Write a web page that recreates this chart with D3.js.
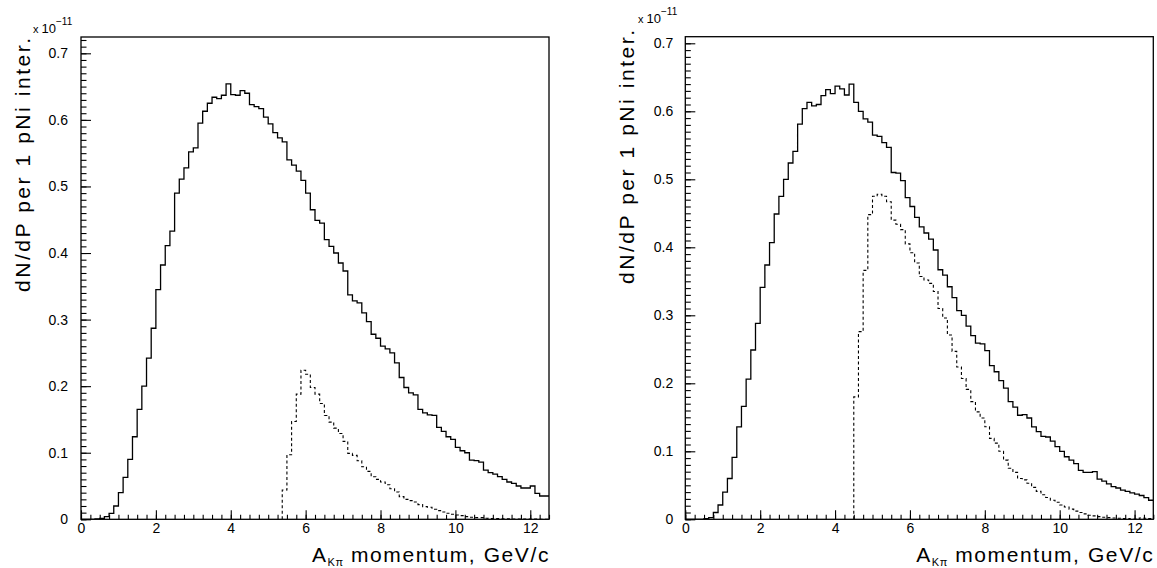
<!DOCTYPE html>
<html>
<head>
<meta charset="utf-8">
<script src="https://cdn.jsdelivr.net/npm/d3@7"></script>
<style>
  body { margin: 0; background: #fff; }
  text { font-family: "Liberation Sans", Arial, sans-serif; fill: #000; }
</style>
</head>
<body>
<svg id="chart"></svg>
<script>

  // ---------------------------//
  //            DATA            //
  // ---------------------------//

    var binWidth = 0.125;
    var xMax = 12.5;
    var xTicks = [0, 2, 4, 6, 8, 10, 12];
    var yTicks = [0, 0.1, 0.2, 0.3, 0.4, 0.5, 0.6, 0.7];
    var yTickLabels = ["0", "0.1", "0.2", "0.3", "0.4", "0.5", "0.6", "0.7"];

    // left panel, solid histogram (100 bins from 0)
    var leftSolid = [
      0, 0, 0, 0.0005, 0.0015, 0.004, 0.009, 0.02, 0.04, 0.063,
      0.09, 0.124, 0.165, 0.20, 0.242, 0.287, 0.345, 0.382, 0.411, 0.433,
      0.49, 0.511, 0.528, 0.552, 0.558, 0.595, 0.613, 0.625, 0.634, 0.632,
      0.637, 0.654, 0.638, 0.637, 0.644, 0.64, 0.623, 0.62, 0.617, 0.604,
      0.594, 0.581, 0.573, 0.567, 0.54, 0.532, 0.523, 0.509, 0.49, 0.465,
      0.449, 0.445, 0.42, 0.41, 0.40, 0.385, 0.373, 0.337, 0.328, 0.325,
      0.31, 0.297, 0.278, 0.272, 0.26, 0.256, 0.25, 0.235, 0.213, 0.198,
      0.19, 0.187, 0.165, 0.16, 0.157, 0.156, 0.138, 0.132, 0.124, 0.12,
      0.108, 0.103, 0.10, 0.089, 0.088, 0.086, 0.074, 0.07, 0.068, 0.064,
      0.06, 0.056, 0.054, 0.05, 0.047, 0.047, 0.05, 0.039, 0.035, 0.035
    ];

    // left panel, dotted histogram (starts at bin 43)
    var leftDottedStart = 43;
    var leftDotted = [
      0.044, 0.097, 0.147, 0.188, 0.224, 0.218, 0.198, 0.188, 0.174, 0.156,
      0.146, 0.137, 0.129, 0.117, 0.099, 0.096, 0.088, 0.079, 0.072, 0.064,
      0.06, 0.056, 0.052, 0.046, 0.041, 0.034, 0.03, 0.028, 0.026, 0.022,
      0.019, 0.018, 0.015, 0.013, 0.011, 0.009, 0.0075, 0.0065, 0.0055, 0.004,
      0.003, 0.0025, 0.0025, 0.0015, 0.0012, 0.001, 0.001, 0.0008, 0.0006, 0.0005,
      0.0004, 0.0003, 0.0003, 0.0002, 0.0002, 0.0001, 0
    ];

    // right panel, solid histogram (100 bins from 0)
    var rightSolid = [
      0, 0, 0, 0, 0.001, 0.0025, 0.01, 0.021, 0.04, 0.06,
      0.091, 0.136, 0.166, 0.206, 0.249, 0.288, 0.341, 0.374, 0.407, 0.449,
      0.475, 0.5, 0.524, 0.541, 0.581, 0.604, 0.613, 0.608, 0.61, 0.623,
      0.632, 0.626, 0.637, 0.633, 0.624, 0.64, 0.613, 0.6, 0.589, 0.584,
      0.565, 0.563, 0.554, 0.547, 0.51, 0.509, 0.498, 0.473, 0.46, 0.444,
      0.43, 0.421, 0.412, 0.396, 0.367, 0.359, 0.342, 0.326, 0.307, 0.3,
      0.284, 0.27, 0.259, 0.258, 0.248, 0.226, 0.217, 0.204, 0.193, 0.173,
      0.165, 0.153, 0.154, 0.149, 0.136, 0.129, 0.122, 0.121, 0.115, 0.107,
      0.1, 0.092, 0.087, 0.082, 0.072, 0.069, 0.069, 0.07, 0.059, 0.056,
      0.052, 0.048, 0.046, 0.043, 0.041, 0.039, 0.037, 0.035, 0.032, 0.028
    ];

    // right panel, dotted histogram (starts at bin 36)
    var rightDottedStart = 36;
    var rightDotted = [
      0.18, 0.276, 0.366, 0.448, 0.475, 0.478, 0.475, 0.467, 0.44, 0.434,
      0.426, 0.405, 0.392, 0.377, 0.357, 0.352, 0.347, 0.335, 0.31, 0.296,
      0.271, 0.247, 0.224, 0.207, 0.191, 0.173, 0.158, 0.149, 0.136, 0.119,
      0.112, 0.1, 0.087, 0.075, 0.069, 0.06, 0.058, 0.053, 0.047, 0.041,
      0.036, 0.032, 0.028, 0.025, 0.021, 0.018, 0.015, 0.012, 0.01, 0.008,
      0.006, 0.005, 0.004, 0.003, 0.0025, 0.002, 0.0015, 0.001, 0.001, 0.0005,
      0.0005, 0.002, 0.0015, 0.001
    ];

  // ---------------------------//
  //         DIMENSIONS         //
  // ---------------------------//

    var width = 1157;
    var height = 568;

    var panels = [
      { left: 81, right: 549, top: 37, bottom: 519.3, yMax: 0.7245,
        solid: leftSolid, dotted: leftDotted, dottedStart: leftDottedStart,
        expX: 33, expY: 33, yTitleX: 30, yTitleY: 165 },
      { left: 685.3, right: 1153.3, top: 36.7, bottom: 519.3, yMax: 0.7097,
        solid: rightSolid, dotted: rightDotted, dottedStart: rightDottedStart,
        expX: 638, expY: 23, yTitleX: 634, yTitleY: 157 }
    ];

  // ---------------------------//
  //          CONTAINER         //
  // ---------------------------//

    var svg = d3.select("#chart")
        .attr("width", width)
        .attr("height", height);

    svg.append("rect")
        .attr("width", width)
        .attr("height", height)
        .attr("fill", "#fff");

  // ---------------------------//
  //           DRAWING          //
  // ---------------------------//

    function stepPoints(values, start) {
        var pts = [[start * binWidth, 0]];
        values.forEach(function(v, i) {
            pts.push([(start + i) * binWidth, v]);
        });
        pts.push([xMax, values[values.length - 1]]);
        return pts;
    }

    panels.forEach(function(p, k) {

        var x = d3.scaleLinear().domain([0, xMax]).range([p.left, p.right]);
        var y = d3.scaleLinear().domain([0, p.yMax]).range([p.bottom, p.top]);

        var g = svg.append("g");

        g.append("clipPath")
            .attr("id", "clip" + k)
            .append("rect")
            .attr("x", p.left)
            .attr("y", p.top)
            .attr("width", p.right - p.left)
            .attr("height", p.bottom - p.top);

        var line = d3.line()
            .x(d => x(d[0]))
            .y(d => y(d[1]))
            .curve(d3.curveStepAfter);

        // dotted histogram
        g.append("path")
            .attr("clip-path", "url(#clip" + k + ")")
            .attr("d", line(stepPoints(p.dotted, p.dottedStart)))
            .attr("fill", "none")
            .attr("stroke", "#000")
            .attr("stroke-width", 1.1)
            .attr("stroke-dasharray", "3,2.5");

        // solid histogram
        g.append("path")
            .attr("clip-path", "url(#clip" + k + ")")
            .attr("d", line(stepPoints(p.solid, 0)))
            .attr("fill", "none")
            .attr("stroke", "#000")
            .attr("stroke-width", 1.3);

        // minor y ticks
        g.append("g")
            .attr("transform", "translate(" + p.left + ",0)")
            .call(d3.axisLeft(y)
                .tickValues(d3.range(0, p.yMax, 0.01))
                .tickSizeInner(-5.5).tickSizeOuter(0)
                .tickFormat(""))
            .call(a => a.select(".domain").remove());

        // major y ticks + labels
        g.append("g")
            .attr("transform", "translate(" + p.left + ",0)")
            .call(d3.axisLeft(y)
                .tickValues(yTicks)
                .tickSizeInner(-10).tickSizeOuter(0)
                .tickPadding(k === 0 ? 13 : 12)
                .tickFormat((d, i) => yTickLabels[i]))
            .call(a => a.select(".domain").remove())
            .call(a => a.selectAll("text").style("font-size", "14px").attr("font-family", null));

        // minor x ticks
        g.append("g")
            .attr("transform", "translate(0," + p.bottom + ")")
            .call(d3.axisBottom(x)
                .tickValues(d3.range(0, xMax + 0.001, 0.25))
                .tickSizeInner(-4.5).tickSizeOuter(0)
                .tickFormat(""))
            .call(a => a.select(".domain").remove());

        // major x ticks + labels
        g.append("g")
            .attr("transform", "translate(0," + p.bottom + ")")
            .call(d3.axisBottom(x)
                .tickValues(xTicks)
                .tickSizeInner(-9).tickSizeOuter(0)
                .tickPadding(4)
                .tickFormat(d3.format("d")))
            .call(a => a.select(".domain").remove())
            .call(a => a.selectAll("text").style("font-size", "14px").attr("font-family", null));

        g.selectAll(".tick line").attr("stroke", "#000").attr("stroke-width", 1.1);

        // frame
        g.append("rect")
            .attr("x", p.left)
            .attr("y", p.top)
            .attr("width", p.right - p.left)
            .attr("height", p.bottom - p.top)
            .attr("fill", "none")
            .attr("stroke", "#000")
            .attr("stroke-width", 1.3);

        // exponent note
        var e = g.append("text")
            .attr("x", p.expX)
            .attr("y", p.expY)
            .style("font-size", "13px");
        e.append("tspan").style("font-size", "11px").text("x ");
        e.append("tspan").text("10");
        e.append("tspan").attr("dy", -8).style("font-size", "10px").text("\u221211");

        // y title
        g.append("text")
            .attr("transform", "translate(" + p.yTitleX + "," + p.yTitleY + ") rotate(-90)")
            .attr("text-anchor", "middle")
            .attr("textLength", 254)
            .attr("lengthAdjust", "spacing")
            .style("font-size", "21px")
            .text("dN/dP per 1 pNi inter.");

        // x title
        var t = g.append("text")
            .attr("x", p.right + 1)
            .attr("y", 562)
            .attr("text-anchor", "end")
            .style("font-size", "21px")
            .style("letter-spacing", "1.6px");
        t.append("tspan").text("A");
        t.append("tspan").attr("dy", 4).style("font-size", "11px").style("letter-spacing", "0.5px").text("K\u03c0");
        t.append("tspan").attr("dy", -4).text(" momentum, GeV/c");
    });

</script>
</body>
</html>
